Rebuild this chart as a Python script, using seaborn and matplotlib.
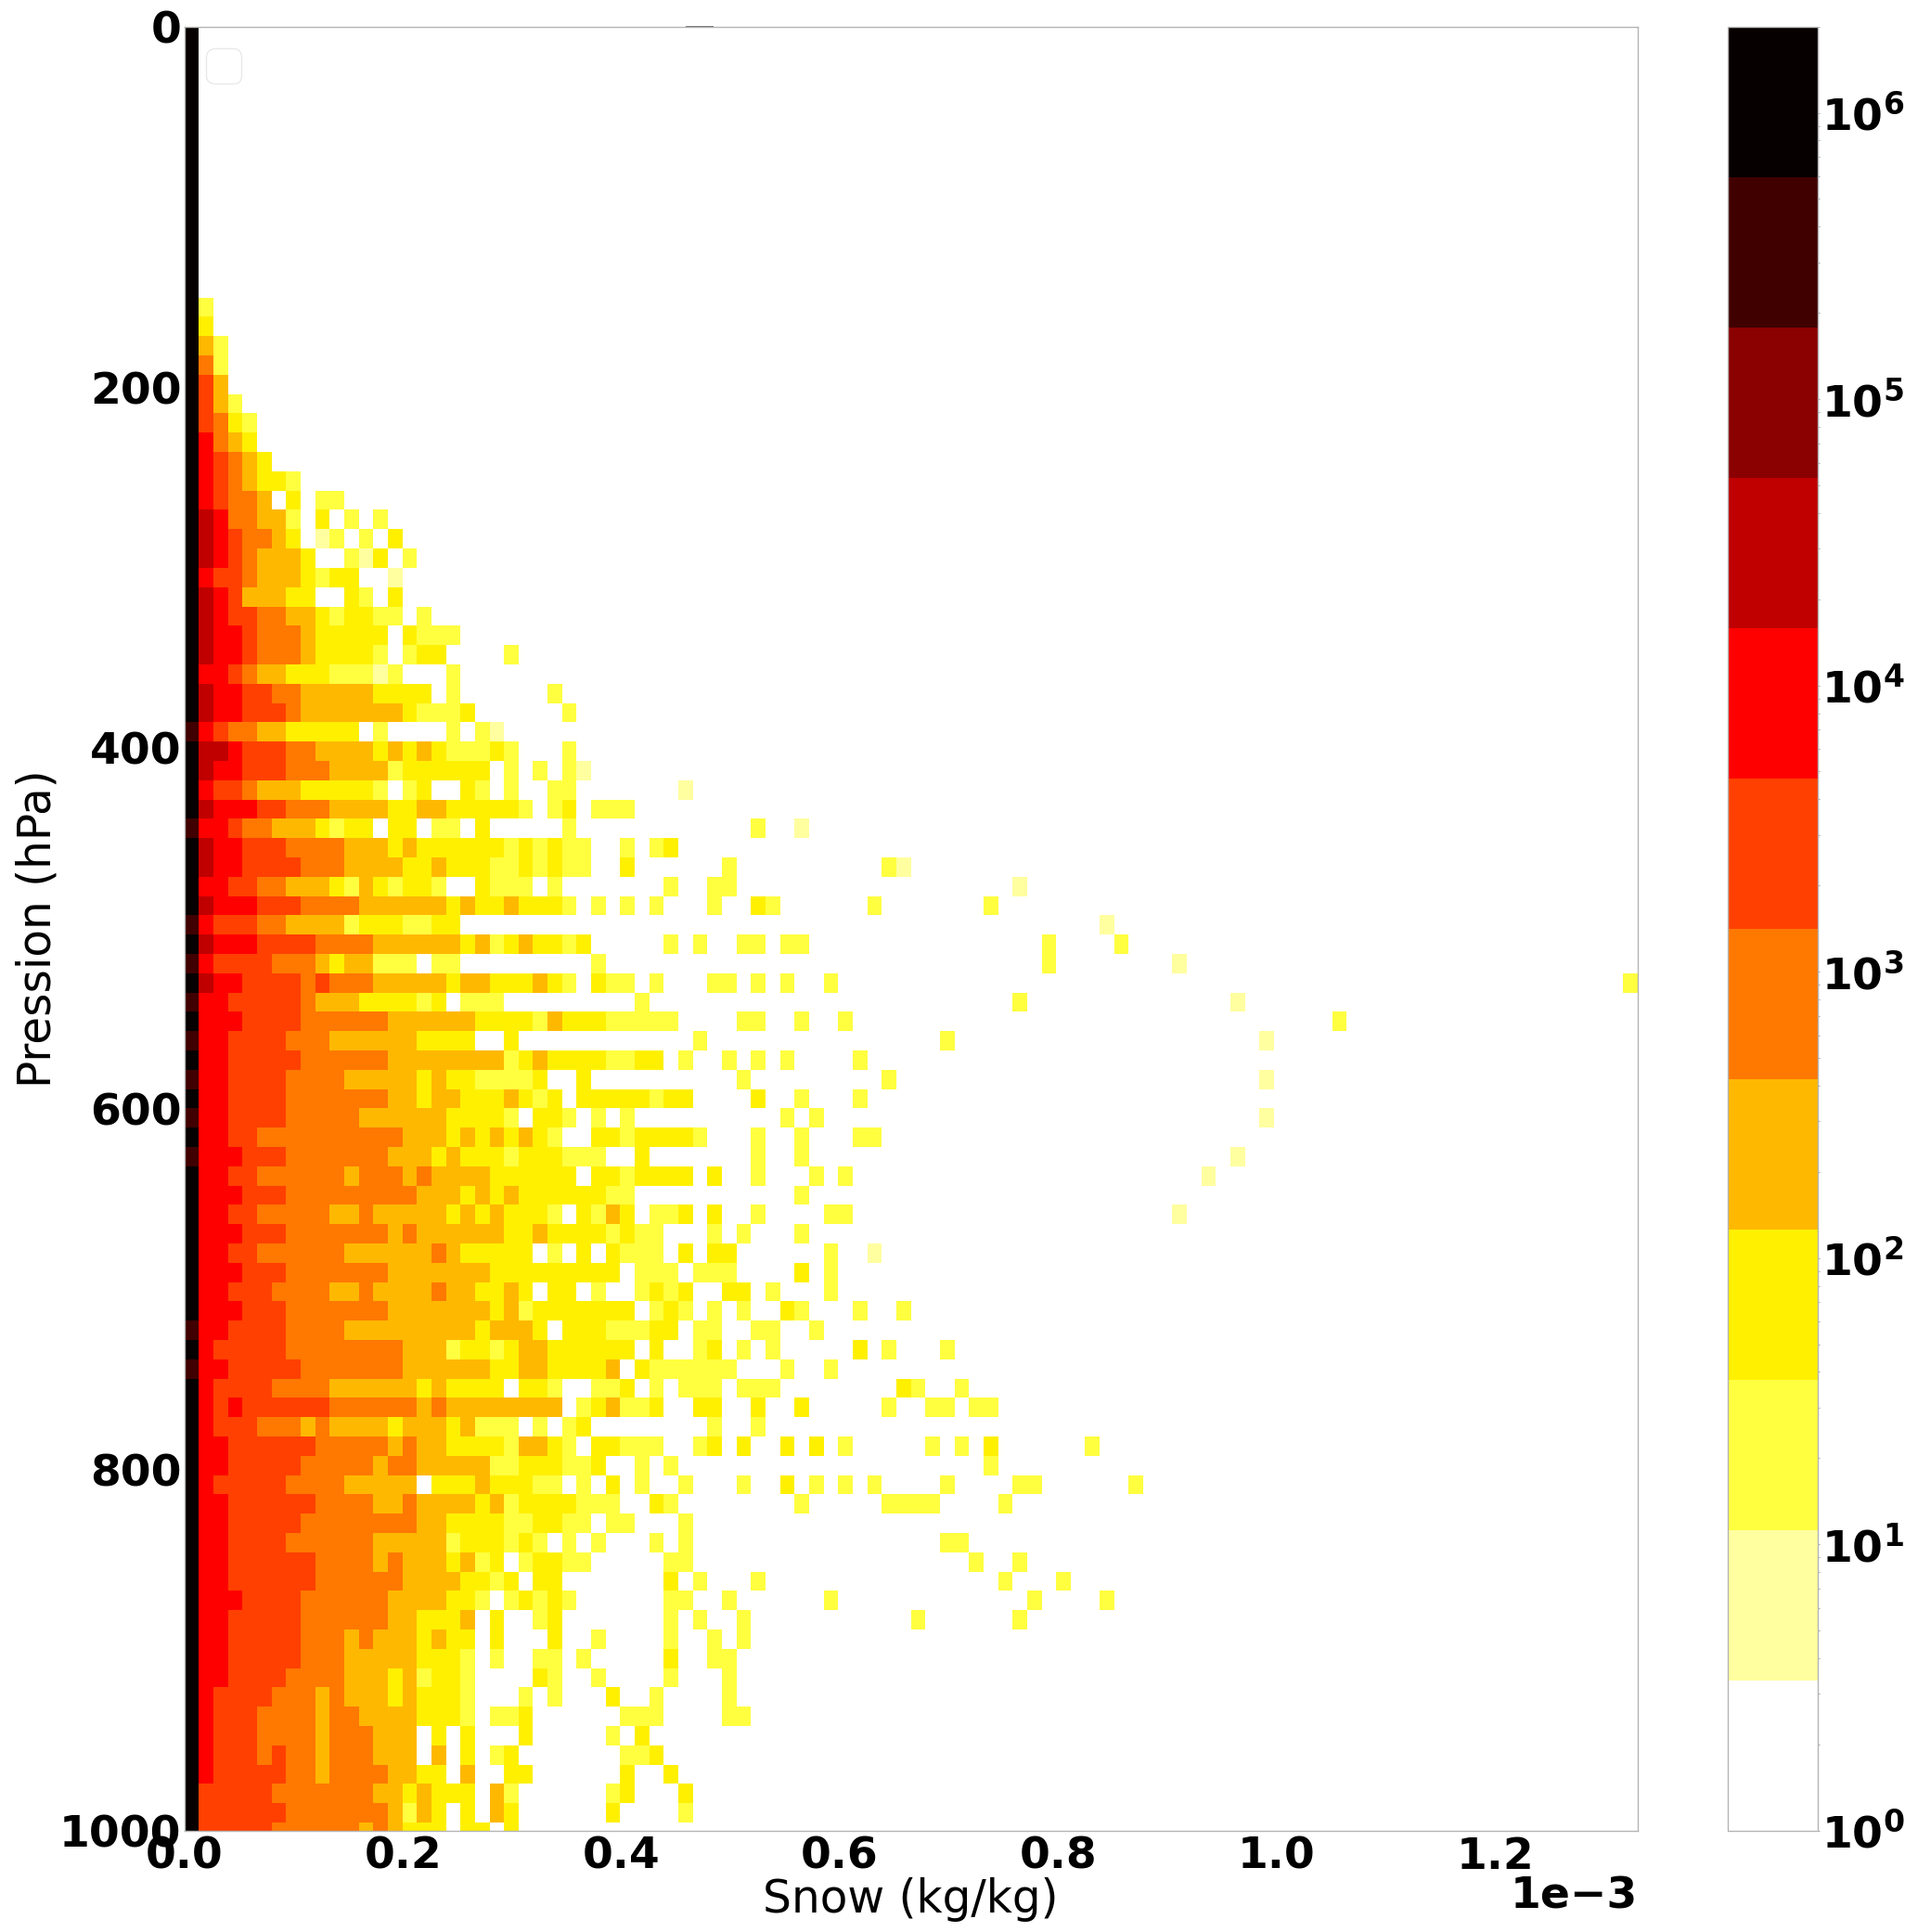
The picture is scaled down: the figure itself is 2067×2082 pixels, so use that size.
import numpy as np
import matplotlib
matplotlib.use("Agg")
import matplotlib.pyplot as plt
from matplotlib.colors import ListedColormap, LogNorm
import seaborn as sns

# Each row lists the colour band of consecutive snow bins, from the lowest bin (0 = white ... b = black)
TOP_ROWS = 14
NEAR_ROWS = [
    "b2", "b3", "b42", "b52", "b64", "b642", "b6532", "b7543", "b76543", "b7654332",
    "b7655403022", "b8755442030202", "b87655430120203", "b876544430021302",
    "b76654443233001", "b87644433003203", "b8766554432332202", "b877655543333303222",
    "b8776555433332023300002", "b776544333222120002",
    "b8776655 44444 3333 0 2 000000 2",
    "b8776665 4444444 3 222 3 000000 2",
    "a765544 33333 0 2 0000 2 0 2 1",
    "b8876665 5 4444 3 4 3 4 3 222 3 2 000 2",
    "b877666 555 4444 2 333333 0 2 0 2 0 2 1",
    "b7665444 33333 2 0 2 3 00 3 2 0 2 00 22",
    "b8777665 55 4444 33 44 33333 2 0 2 3 0 222",
    "a776554 44 3 2 33 0 33 0 22 0 3 00000 2",
    "b877666 5555 444 3 4 333333 2 3 2 3 22 00 2",
    "b8776666 555 4444 33 4 333 22 3 2 3 22 00 3",
    "b776655 444 3 2 4 3 2 33 2 00 3 222 0 2",
    "b8777 666 5555 444444 3 4 33 4 333 2 0 2 0 2",
    "a7666 55 4444 2 333 22 33",
    "b8777 6666 5555 444444 3 4 2 3 4 33 2 3",
    "a7 6666 555 4 3 44 222 0 22 000000000 2",
    "b8 77 6666 5 6 555 44444 3 44 333 4 3 2 0 3 22",
    "a 77 66666 5 444 3333 2 3 0 222 000000000 2",
    "b 777 6666 555555 444444 3333 2 4 333 222",
    "a 77 6666 555 444444 3333 00 3",
    "b 77 66666 555555 44444444 2 3 4 3333 22 3",
    "a 77 6666 5555 44444 3 4 33 2222 3 00 3",
    "b 77 6666 5555555 44 3 44 333 4 3 2 3 0 33333",
    "a 77 6666 55555 444444 3333 2 0 33 2 0 2 0 2",
    "b 77 66 5555555555 444 3 4 3 4 3 4 3 2 00 33 2 3",
    "a 777 666 5555555 444 3 4 333 2 333 222 00 3",
    "b 77 66 555555 4 555 4 5 4444 333333 0 33 2 3",
    "b 777 666 555555555 444 3 4 3 4 333333 22 0",
    "b 77 66 55555 44 5 44444 3 4 3 4 333 2 0 3 2 4 3",
    "b 777 666 5555555 4 5 444444 33 4 3333 2 3 2",
    "b 77 66 555555 444444 5 4 33333 0 2 0 3 0 3 22",
    "b 777 666 5555555 4444444 333333333 0 2",
    "b 77 666 5555 44 5 4444 5 44 33 4 3 0 33 0 2 00 2",
    "b 777 666 5555555 4444444 3 4 2 3333333",
    "a 77 6666 5555 444444444 3 444 3 0 333 222",
    "b 7 66666 55555555 444 2 33 2 3 44 333333",
    "a 77 66666 5555555 444444 33 44 3333 4 0 3",
    "b 7 6666 5555 444444 3 4 3333 0 33 2 00 22 3",
    "b 7 6 7 666666 555555 4 5 44444444 0 2 3 4 22",
    "b 7 666 555 4 5 4444 3 444 3 4 222 0 2 0 2 3",
    "b 77 666666 55555 4 5 44 3333 2 44 3 2 0 33 22",
    "b 77 66666 55555 4 55 44444 22 333 22 3 00 2",
    "b 7 66666 5555 44444 0 333 4 333 22 0 2 0 3 0 2",
    "b 77 666666 5555 44 5 4444 3 4 2 3333 222",
    "b 77 66666 55555555 44 3333 22 33 22 0 22",
    "b 77 6666 555555 44444 2 333 2 3 2 0 2 0 2",
    "b 77 666666 5555 4 5 444 3 4 2 3 0 2 33 22",
    "b 77 666666 555555 4444 33 2 3 0 33",
    "b 777 6666 555555 4444 33 2 0 2 3 2 3 2",
    "b 77 66666 555555 44 333 4 0 3 00 2 3",
    "b 77 66666 555 4 5 444 3 4 33 0 3 000 3 00 2",
    "b 77 66666 555 44444 333 2 0 2 00 22 0 2",
    "b 77 6666 5555 444 3 4 2 33 2 0000 3 2 00 2",
    "b 7 6666 555 4 5 444 3 4 333 2 000 2 0 2 000 3",
    "b 7 666 5555 4 55 4444 333 2 0 22 3 000000 22",
    "b 7 666 5555 4 555 444 0 3 0 3 000 3 00000 2 0 3",
    "b 7 666 5 6 55 4 555 444 0 4 0 3 0 2 3 0000000 22",
    "b 7 66666 55 4 5555 44 33 0 4 00 33 000000 3",
    "b 66666 5555555 44 3 4 333 0 4 2 000000 2 3",
    "b 666666 5555555 4 2 4 3 0 3 0 4 3 000000 3",
    "b 66666 555555 4 5 4 333 0 33 0 3",
]

# Sparse cells at large snow values: row -> (bin, band)
FAR_CELLS = {
    39: [(34, 1)],
    41: [(39, 2), (42, 1)],
    42: [(32, 2), (33, 3)],
    43: [(37, 2), (48, 2), (49, 1)],
    44: [(33, 2), (36, 2), (37, 2), (57, 1)],
    45: [(32, 2), (36, 2), (39, 3), (40, 2), (47, 2), (55, 2)],
    46: [(63, 1)],
    47: [(33, 2), (35, 2), (38, 2), (39, 2), (41, 2), (42, 2), (59, 2), (64, 2)],
    48: [(59, 2), (68, 1)],
    49: [(32, 2), (36, 2), (37, 2), (39, 2), (41, 2), (44, 2), (99, 2)],
    50: [(57, 2), (72, 1)],
    51: [(32, 2), (33, 2), (38, 2), (39, 2), (42, 2), (45, 2), (79, 2)],
    52: [(35, 2), (52, 2), (74, 1)],
    53: [(32, 3), (34, 2), (37, 2), (39, 2), (41, 2), (46, 2)],
    54: [(38, 2), (48, 2), (74, 1)],
    55: [(32, 2), (33, 3), (34, 3), (39, 3), (42, 2), (46, 2)],
    56: [(41, 2), (43, 2), (74, 1)],
    57: [(32, 3), (33, 3), (34, 3), (35, 2), (39, 2), (42, 2), (46, 2), (47, 2)],
    58: [(39, 2), (42, 2), (72, 1)],
    59: [(32, 3), (33, 3), (34, 3), (36, 3), (39, 2), (43, 2), (45, 2), (70, 1)],
    60: [(42, 2)],
    61: [(32, 2), (33, 2), (34, 3), (36, 3), (39, 2), (44, 2), (45, 2), (68, 1)],
    62: [(32, 2), (36, 2), (38, 2), (42, 2)],
    63: [(32, 2), (34, 3), (36, 3), (37, 3), (44, 2), (47, 1)],
    64: [(32, 2), (33, 2), (35, 2), (36, 2), (37, 2), (42, 3), (44, 2)],
    65: [(32, 3), (33, 2), (34, 3), (37, 3), (38, 3), (40, 2), (44, 2)],
    66: [(32, 2), (33, 3), (34, 2), (36, 2), (38, 2), (41, 3), (42, 2), (46, 2), (49, 2)],
    67: [(32, 3), (33, 3), (35, 2), (36, 2), (39, 2), (40, 2), (43, 2)],
    68: [(32, 3), (35, 2), (36, 3), (38, 2), (40, 2), (46, 3), (48, 2), (52, 2)],
    69: [(32, 2), (33, 2), (34, 2), (35, 2), (36, 2), (37, 2), (41, 2), (44, 2)],
    70: [(32, 2), (34, 2), (35, 2), (36, 2), (38, 2), (39, 2), (40, 2), (49, 3), (50, 2), (53, 2)],
    71: [(32, 3), (35, 3), (36, 3), (39, 3), (42, 3), (48, 2), (51, 2), (52, 2), (54, 2), (55, 2)],
    72: [(36, 2), (39, 2)],
    73: [(32, 2), (35, 2), (36, 3), (38, 3), (41, 3), (43, 3), (45, 2), (51, 2), (53, 2), (55, 3), (62, 2)],
    74: [(33, 2), (55, 2)],
    75: [(34, 2), (38, 2), (41, 3), (43, 2), (45, 2), (47, 2), (52, 2), (57, 2), (58, 2), (65, 2)],
    76: [(32, 3), (33, 2), (42, 2), (48, 2), (49, 2), (50, 2), (51, 2), (56, 2)],
    77: [(34, 2)],
    78: [(32, 2), (34, 2), (52, 2), (53, 2)],
    79: [(33, 2), (34, 2), (54, 2), (57, 2)],
    80: [(33, 3), (35, 2), (39, 2), (56, 2), (60, 2)],
    81: [(33, 2), (34, 2), (37, 2), (44, 2), (58, 2), (63, 2)],
    82: [(33, 2), (35, 2), (38, 2), (50, 2), (57, 2)],
    83: [(33, 2), (36, 2), (38, 2)],
    84: [(33, 3), (36, 2), (37, 2)],
    85: [(33, 2), (37, 2)],
    86: [(32, 2), (37, 2)],
    87: [(32, 2), (37, 2), (38, 2)],
    89: [(32, 3)],
    90: [(33, 3)],
    91: [(34, 3)],
    92: [(34, 2)],
}

BAND_COLORS = ["#ffffff", "#ffffa0", "#ffff40", "#fff000", "#ffb800", "#ff7800",
               "#ff4000", "#ff0000", "#c00000", "#8b0000", "#400000", "#060000"]
COUNT_MAX = 2e6
N_BINS = 100
BIN_WIDTH = 1.33e-5      # kg/kg
ROW_HEIGHT = 10.7        # hPa
ROW_START = 0.4          # hPa
X_TICKS = [0.0, 0.2, 0.4, 0.6, 0.8, 1.0, 1.2]
Y_TICKS = [0, 200, 400, 600, 800, 1000]
CBAR_EXPONENTS = [0, 1, 2, 3, 4, 5, 6]
FS = 34
FS_LABEL = 35

sns.set_style("white")
plt.rcParams["font.family"] = ["DejaVu Sans"]
plt.rcParams["mathtext.default"] = "regular"
plt.rcParams["text.color"] = "black"
plt.rcParams["axes.labelcolor"] = "black"
plt.rcParams["xtick.color"] = "black"
plt.rcParams["ytick.color"] = "black"

rows = ["b"] * TOP_ROWS + NEAR_ROWS
bands = np.zeros((len(rows), N_BINS), dtype=int)
for r, text in enumerate(rows):
    for c, ch in enumerate(text.replace(" ", "")):
        bands[r, c] = int(ch, 16)
for r, cells in FAR_CELLS.items():
    for c, b in cells:
        bands[r, c] = b

n_bands = len(BAND_COLORS)
decades = np.log10(COUNT_MAX)
counts = 10.0 ** ((bands + 0.5) * decades / n_bands)

W, H = 2067, 2082
fig = plt.figure(figsize=(W / 100, H / 100), dpi=100)
L, R, T, B = 198.7, 1764.5, 28.7, 1972.7
ax = fig.add_axes([L / W, 1 - B / H, (R - L) / W, (B - T) / H])
cax = fig.add_axes([1862 / W, 1 - B / H, 97 / W, (B - T) / H])

sns.heatmap(counts, ax=ax, cbar_ax=cax, cmap=ListedColormap(BAND_COLORS),
            norm=LogNorm(vmin=1, vmax=COUNT_MAX), xticklabels=False, yticklabels=False,
            cbar_kws={"ticks": [10.0 ** e for e in CBAR_EXPONENTS]})

ax.set_xlim(0, N_BINS)
ax.set_ylim((1000 - ROW_START) / ROW_HEIGHT, -ROW_START / ROW_HEIGHT)
ax.set_xticks([v * 1e-3 / BIN_WIDTH for v in X_TICKS])
ax.set_xticklabels([f"{v:.1f}" for v in X_TICKS], fontsize=FS, fontweight="bold", rotation=0)
ax.set_yticks([(p - ROW_START) / ROW_HEIGHT for p in Y_TICKS])
ax.set_yticklabels([str(p) for p in Y_TICKS], fontsize=FS, fontweight="bold", rotation=0)
ax.tick_params(axis="x", length=1, width=0.6, color="#808080", pad=3.5)
ax.tick_params(axis="y", length=1, width=0.6, color="#808080", pad=1.2)

for s in ax.spines.values():
    s.set_visible(True)
    s.set_color("#b4b4b4")
    s.set_linewidth(1.0)

ax.set_xlabel("Snow (kg/kg)", fontsize=FS_LABEL, va="center")
ax.xaxis.set_label_coords(0.4996, (B - 2047) / (B - T))
ax.set_ylabel("Pression (hPa)", fontsize=FS_LABEL, va="center")
ax.yaxis.set_label_coords(-0.1008, 0.5)
ax.text(1.0003, (B - 2044) / (B - T), "1e\u22123", transform=ax.transAxes,
        ha="right", va="center", fontsize=FS, fontweight="bold")

# empty legend frame of the original
leg = ax.legend(handles=[], labels=[], loc="upper left", fontsize=34, frameon=True)
leg.get_frame().set_edgecolor("#e4e4e4")
leg.get_frame().set_linewidth(1.0)

# short dark stretch on the top frame
ax.hlines(-ROW_START / ROW_HEIGHT, 34.5, 36.4, color="#505050", linewidth=1.2, clip_on=False)

cax.tick_params(which="both", length=1.5, width=0.5, color="#808080", pad=1.5)
cax.tick_params(which="major", labelsize=FS)
for t in cax.get_yticklabels():
    t.set_fontweight("bold")
cbar = ax.collections[0].colorbar
cbar.outline.set_visible(True)
cbar.outline.set_edgecolor("#b4b4b4")
cbar.outline.set_linewidth(1.0)

fig.savefig("out.png", dpi=100, facecolor="white")
